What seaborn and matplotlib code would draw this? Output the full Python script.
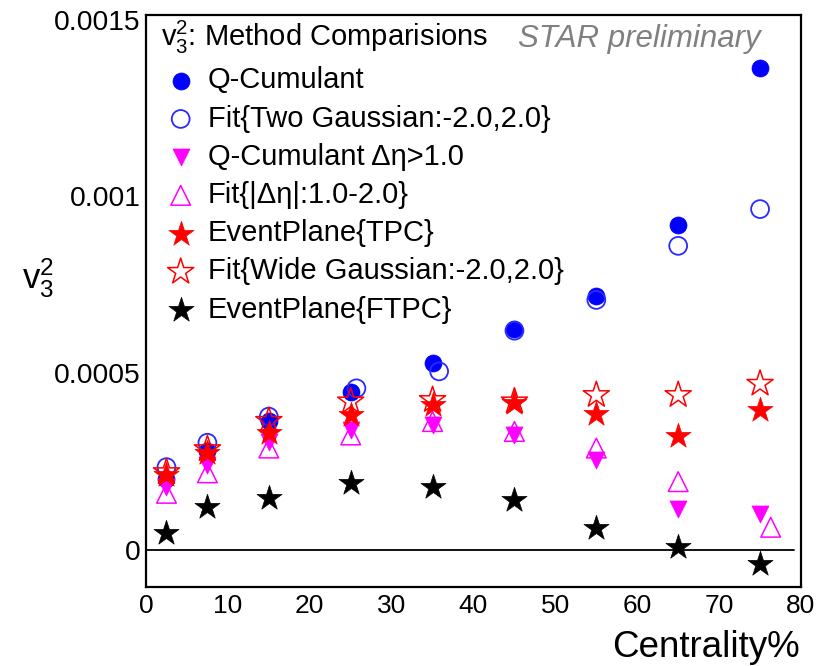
import matplotlib
matplotlib.use("Agg")
import matplotlib.pyplot as plt
import seaborn as sns
from matplotlib.ticker import FixedLocator, FixedFormatter, MultipleLocator

# ---------------- data ----------------
centrality = [2.5, 7.5, 15, 25, 35, 45, 55, 65, 75]
centrality_fit_two_gauss = [2.5, 7.5, 15, 25.7, 35.8, 45, 55, 65, 75]
centrality_fit_deta = [2.5, 7.5, 15, 25, 35, 45, 55, 65, 76.3]

q_cumulant = [0.000200, 0.000280, 0.000365, 0.000448, 0.000530, 0.000624, 0.000717, 0.000919, 0.001363]
fit_two_gauss = [0.000234, 0.000303, 0.000377, 0.000457, 0.000505, 0.000620, 0.000707, 0.000860, 0.000964]
q_cumulant_deta = [0.000178, 0.000240, 0.000306, 0.000340, 0.000354, 0.000325, 0.000255, 0.000115, 0.000102]
fit_deta = [0.000160, 0.000218, 0.000288, 0.000325, 0.000363, 0.000335, 0.000288, 0.000193, 0.000064]
ep_tpc = [0.000212, 0.000273, 0.000330, 0.000382, 0.000410, 0.000415, 0.000384, 0.000323, 0.000396]
fit_wide_gauss = [0.000220, 0.000285, 0.000365, 0.000420, 0.000424, 0.000420, 0.000438, 0.000438, 0.000470]
ep_ftpc = [0.000049, 0.000121, 0.000146, 0.000189, 0.000177, 0.000141, 0.000061, 0.0000076, -0.000040]

series_labels = [
    "Q-Cumulant",
    "Fit{Two Gaussian:-2.0,2.0}",
    "Q-Cumulant \u0394\u03b7>1.0",
    "Fit{|\u0394\u03b7|:1.0-2.0}",
    "EventPlane{TPC}",
    "Fit{Wide Gaussian:-2.0,2.0}",
    "EventPlane{FTPC}",
]

x_ticks = [0, 10, 20, 30, 40, 50, 60, 70, 80]
x_tick_labels = ["0", "10", "20", "30", "40", "50", "60", "70", "80"]
y_ticks = [0, 0.0005, 0.001, 0.0015]
y_tick_labels = ["0", "0.0005", "0.001", "0.0015"]

legend_title = "v$_3^2$: Method Comparisions"
x_label = "Centrality%"
y_label = "v$_3^2$"
watermark = "STAR preliminary"

# ---------------- style ----------------
sns.set_style("white")
plt.rcParams["font.family"] = ["Liberation Sans", "DejaVu Sans"]
plt.rcParams["mathtext.fontset"] = "custom"
plt.rcParams["mathtext.rm"] = "Liberation Sans"
plt.rcParams["mathtext.default"] = "regular"
plt.rcParams["text.color"] = "black"
plt.rcParams["legend.labelcolor"] = "black"

W, H = 817, 666
fig = plt.figure(figsize=(W / 100, H / 100), dpi=100)
fig.patch.set_facecolor("white")
ax_l, ax_r, ax_t, ax_b = 146, 801, 15, 587
ax = fig.add_axes([ax_l / W, 1 - ax_b / H, (ax_r - ax_l) / W, (ax_b - ax_t) / H])
ax.set_facecolor("white")

series = [
    (centrality, q_cumulant, dict(marker="o", s=150, color="#0000ff", edgecolor="#0000ff", linewidth=0.5)),
    (centrality_fit_two_gauss, fit_two_gauss, dict(marker="o", s=165, facecolors="none", edgecolor="#2a2aff", linewidth=1.3)),
    (centrality, q_cumulant_deta, dict(marker="v", s=150, color="#ff00ff", edgecolor="#ff00ff", linewidth=0.5)),
    (centrality_fit_deta, fit_deta, dict(marker="^", s=200, facecolors="none", edgecolor="#ff00ff", linewidth=1.1)),
    (centrality, ep_tpc, dict(marker="*", s=360, color="#ff0000", edgecolor="#ff0000", linewidth=0.5)),
    (centrality, fit_wide_gauss, dict(marker="*", s=390, facecolors="none", edgecolor="#ff0000", linewidth=1.1)),
    (centrality, ep_ftpc, dict(marker="*", s=360, color="#000000", edgecolor="#000000", linewidth=0.5)),
]

for (xs, ys, kw), lab in zip(series, series_labels):
    sns.scatterplot(x=xs, y=ys, ax=ax, label=lab, zorder=3, **kw)

# zero line
ax.plot([0, 79.2], [0, 0], color="black", lw=1.3, zorder=2)

ax.set_xlim(0, 80)
ax.set_ylim(-0.000105, 0.001513)

ax.xaxis.set_major_locator(FixedLocator(x_ticks))
ax.xaxis.set_major_formatter(FixedFormatter(x_tick_labels))
ax.xaxis.set_minor_locator(MultipleLocator(2))
ax.yaxis.set_major_locator(FixedLocator(y_ticks))
ax.yaxis.set_major_formatter(FixedFormatter(y_tick_labels))
ax.yaxis.set_minor_locator(MultipleLocator(0.0001))

ax.tick_params(axis="both", which="both", direction="in", colors="black", width=1.1,
               top=False, right=False)
ax.tick_params(axis="x", which="major", length=11, pad=5, labelsize=19)
ax.tick_params(axis="x", which="minor", length=5)
ax.tick_params(axis="y", which="major", length=12, pad=4, labelsize=20.3)
ax.tick_params(axis="y", which="minor", length=6.5)

for sp in ax.spines.values():
    sp.set_color("black")
    sp.set_linewidth(1.6)
    sp.set_visible(True)

ax.set_xlabel("")
ax.set_ylabel("")
fig.text(800 / W, 1 - 657 / H, x_label, ha="right", va="baseline", fontsize=26.5, color="black")
fig.text(38 / W, 1 - 278 / H, y_label, ha="center", va="center", fontsize=25, color="black")

fig.text(518 / W, 1 - 47 / H, watermark, ha="left", va="baseline", fontsize=22.5,
         style="italic", color="#808080")

leg = ax.legend(title=legend_title, loc="upper left", bbox_to_anchor=(161 / W, 1 - 19 / H),
                bbox_transform=fig.transFigure, frameon=False, fontsize=21,
                title_fontsize=21, alignment="left", borderpad=0, borderaxespad=0,
                handlelength=1.35, handletextpad=0.25, labelspacing=0.35, scatterpoints=1)
leg.get_title().set_color("black")

fig.savefig("out.png", dpi=100)
